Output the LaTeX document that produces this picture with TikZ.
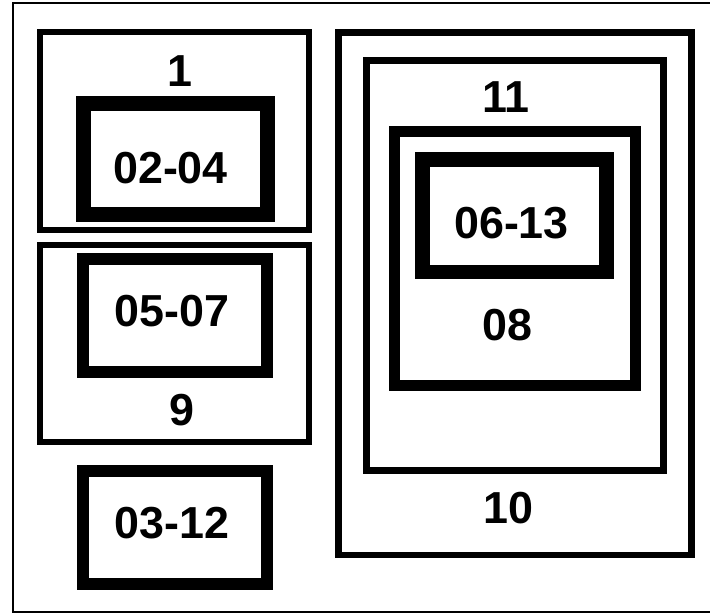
\documentclass[tikz,border=0pt]{standalone}
\usepackage{fontspec}
\setmainfont{Liberation Sans}
\begin{document}
\begin{tikzpicture}[x=1bp,y=-1bp,
  frame/.style={draw=black,line width=2.5bp},
  box/.style={draw=black,rectangle,inner sep=0pt,outer sep=0pt},
  lbl/.style={inner sep=0pt,font=\fontsize{45}{45}\selectfont\bfseries}]
\useasboundingbox (0,0) rectangle (710,614);
\clip (0,0) rectangle (710,614);
\fill[white] (0,0) rectangle (710,614);
\draw[frame] (13,3) rectangle (722,612);
% left column
\node[box,line width=6.5bp,minimum width=269bp,minimum height=198bp] (b1) at (174.5,131) {};
\node[box,line width=15bp,minimum width=184bp,minimum height=111bp] (b0204) at (175.5,159) {};
\node[box,line width=6.5bp,minimum width=269bp,minimum height=197bp] (b9) at (174.5,343.5) {};
\node[box,line width=12bp,minimum width=184bp,minimum height=113bp] (b0507) at (175,315) {};
\node[box,line width=12bp,minimum width=184bp,minimum height=113bp] (b0312) at (175,527.5) {};
% right column
\node[box,line width=6.5bp,minimum width=353bp,minimum height=522.5bp] (b10) at (515,293.75) {};
\node[box,line width=7.5bp,minimum width=297bp,minimum height=410bp] (b11) at (515,265.5) {};
\node[box,line width=11bp,minimum width=241.5bp,minimum height=254bp] (b08) at (514.75,258.5) {};
\node[box,line width=14.5bp,minimum width=184bp,minimum height=112.5bp] (b0613) at (514.5,215.75) {};
% labels
\node[lbl] (t1) at (180,71) {1};
\node[lbl] (t0204) at (170.5,168.5) {02-04};
\node[lbl] (t0507) at (172,311) {05-07};
\node[lbl] (t9) at (182,410) {9};
\node[lbl] (t0312) at (172,523.5) {03-12};
\node[lbl] (t11) at (506,97.5) {11};
\node[lbl] (t0613) at (511.5,223.5) {06-13};
\node[lbl] (t08) at (507.5,325) {08};
\node[lbl] (t10) at (508.5,508.5) {10};
\end{tikzpicture}
\end{document}
